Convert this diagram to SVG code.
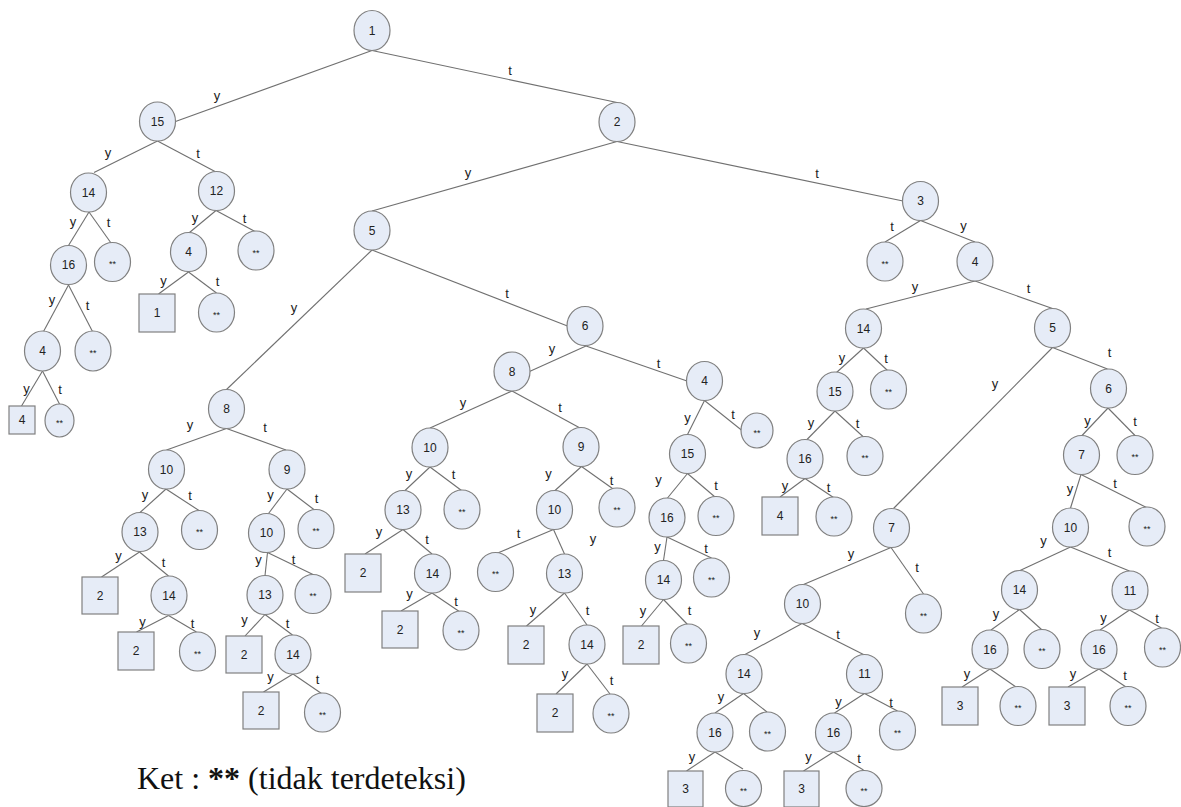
<svg xmlns="http://www.w3.org/2000/svg" width="1181" height="807" viewBox="0 0 1181 807">
<style>
.n ellipse,.n rect{fill:#e6ecf7;stroke:#808080;stroke-width:1.2}
.n text{font-family:"Liberation Sans",Arial,sans-serif;font-size:12px;fill:#222;text-anchor:middle}
.n text.s{font-size:9px}
#edges line{stroke:#707070;stroke-width:1.1}
#edges text{font-family:"Liberation Sans",Arial,sans-serif;font-size:13px;fill:#222;text-anchor:middle}
.legend{font-family:"Liberation Serif","Times New Roman",serif;font-size:32px;fill:#111}
</style>
<rect width="1181" height="807" fill="#fff"/>
<g id="edges">
<line x1="372" y1="50.5" x2="175.5" y2="121.5"/><text x="217" y="99.5">y</text>
<line x1="372" y1="50.5" x2="617" y2="102.5"/><text x="510" y="74.5">t</text>
<line x1="157.5" y1="141" x2="94" y2="172.5"/><text x="108" y="156.5">y</text>
<line x1="157.5" y1="141" x2="215" y2="171.5"/><text x="198" y="157.5">t</text>
<line x1="89" y1="212" x2="68.5" y2="245.5"/><text x="73" y="225.5">y</text>
<line x1="89" y1="212" x2="111" y2="243"/><text x="108.5" y="227">t</text>
<line x1="216" y1="210.5" x2="189.5" y2="232.5"/><text x="195" y="221.5">y</text>
<line x1="216" y1="210.5" x2="255" y2="231.5"/><text x="244.5" y="222.5">t</text>
<line x1="68.5" y1="285" x2="43.5" y2="331.5"/><text x="52" y="304">y</text>
<line x1="68.5" y1="285" x2="92.5" y2="331.5"/><text x="87.5" y="309.5">t</text>
<line x1="188.5" y1="272" x2="158.5" y2="294"/><text x="163.5" y="285">y</text>
<line x1="188.5" y1="272" x2="216.5" y2="293"/><text x="217.5" y="286">t</text>
<line x1="42.5" y1="371" x2="21.5" y2="406"/><text x="26.5" y="392.5">y</text>
<line x1="42.5" y1="371" x2="59.5" y2="404"/><text x="60" y="393.5">t</text>
<line x1="617" y1="141.5" x2="372" y2="211"/><text x="468" y="176.5">y</text>
<line x1="617" y1="141.5" x2="903" y2="201"/><text x="817" y="177.5">t</text>
<line x1="372" y1="250" x2="226.5" y2="389.5"/><text x="294" y="311.5">y</text>
<line x1="372" y1="250" x2="567.5" y2="326"/><text x="507" y="297.5">t</text>
<line x1="226.5" y1="428.5" x2="166.5" y2="450"/><text x="190" y="428.5">y</text>
<line x1="226.5" y1="428.5" x2="286" y2="450"/><text x="265" y="431.5">t</text>
<line x1="166" y1="489" x2="140" y2="512.5"/><text x="145" y="498.5">y</text>
<line x1="166" y1="489" x2="199" y2="510.5"/><text x="190" y="499.5">t</text>
<line x1="139.5" y1="552" x2="101.5" y2="577"/><text x="118.5" y="559.5">y</text>
<line x1="139.5" y1="552" x2="168.5" y2="576"/><text x="163.5" y="566.5">t</text>
<line x1="168.5" y1="615.5" x2="136.5" y2="632"/><text x="142.5" y="625.5">y</text>
<line x1="168.5" y1="615.5" x2="196.5" y2="632"/><text x="192.5" y="627.5">t</text>
<line x1="287" y1="489" x2="268.5" y2="513.5"/><text x="270.5" y="498.5">y</text>
<line x1="287" y1="489" x2="314.5" y2="510"/><text x="316.5" y="502.5">t</text>
<line x1="267.5" y1="552.5" x2="265" y2="575.5"/><text x="258.5" y="563.5">y</text>
<line x1="267.5" y1="552.5" x2="313" y2="574.5"/><text x="293.5" y="564">t</text>
<line x1="265" y1="614.5" x2="245" y2="636"/><text x="244.5" y="623.5">y</text>
<line x1="265" y1="614.5" x2="292.5" y2="635"/><text x="287.5" y="628">t</text>
<line x1="293" y1="674" x2="263.5" y2="692"/><text x="270.5" y="680.5">y</text>
<line x1="293" y1="674" x2="321.5" y2="693.5"/><text x="317.5" y="684">t</text>
<line x1="586" y1="346" x2="529.5" y2="371.5"/><text x="552" y="352.5">y</text>
<line x1="586" y1="346" x2="687" y2="381"/><text x="658.5" y="368">t</text>
<line x1="512" y1="391" x2="430" y2="428"/><text x="463" y="406.5">y</text>
<line x1="512" y1="391" x2="580" y2="428"/><text x="560" y="412">t</text>
<line x1="430" y1="467" x2="405" y2="490.5"/><text x="409" y="477.5">y</text>
<line x1="430" y1="467" x2="461.5" y2="490.5"/><text x="453.5" y="478.5">t</text>
<line x1="403" y1="529.5" x2="365" y2="554"/><text x="379" y="536">y</text>
<line x1="403" y1="529.5" x2="432" y2="554"/><text x="427" y="544">t</text>
<line x1="432" y1="593" x2="401" y2="611"/><text x="409.5" y="597.5">y</text>
<line x1="432" y1="593" x2="460" y2="612"/><text x="456" y="605.5">t</text>
<line x1="581.5" y1="466.5" x2="555" y2="490.5"/><text x="548.5" y="477.5">y</text>
<line x1="581.5" y1="466.5" x2="616" y2="491"/><text x="611.5" y="484.5">t</text>
<line x1="553.5" y1="529.5" x2="496.5" y2="553.5"/><text x="518.5" y="537.5">t</text>
<line x1="553.5" y1="529.5" x2="564.5" y2="554"/><text x="593" y="542.5">y</text>
<line x1="564.5" y1="593" x2="526.5" y2="626"/><text x="533" y="613.5">y</text>
<line x1="564.5" y1="593" x2="587" y2="625"/><text x="587.5" y="614.5">t</text>
<line x1="587" y1="664" x2="556" y2="694"/><text x="565" y="677.5">y</text>
<line x1="587" y1="664" x2="610" y2="694"/><text x="611.5" y="684.5">t</text>
<line x1="704.5" y1="400.5" x2="687.5" y2="434.5"/><text x="687.5" y="422">y</text>
<line x1="704.5" y1="400.5" x2="742" y2="430.5"/><text x="733" y="418.5">t</text>
<line x1="687.5" y1="473.5" x2="667.5" y2="498"/><text x="658.5" y="483.5">y</text>
<line x1="687.5" y1="473.5" x2="715" y2="497"/><text x="716" y="489.5">t</text>
<line x1="667" y1="537" x2="663.5" y2="560.5"/><text x="657.5" y="551">y</text>
<line x1="667" y1="537" x2="711.5" y2="558"/><text x="706" y="553">t</text>
<line x1="663.5" y1="599.5" x2="641.5" y2="626"/><text x="643" y="614.5">y</text>
<line x1="663.5" y1="599.5" x2="687.5" y2="624.5"/><text x="689.5" y="614.5">t</text>
<line x1="920.5" y1="220.5" x2="885" y2="242"/><text x="892" y="230.5">t</text>
<line x1="920.5" y1="220.5" x2="975" y2="242"/><text x="963.5" y="229.5">y</text>
<line x1="975" y1="281" x2="866" y2="309"/><text x="915" y="291">y</text>
<line x1="975" y1="281" x2="1052.5" y2="308.5"/><text x="1028.5" y="293">t</text>
<line x1="863.5" y1="348" x2="836.5" y2="372.5"/><text x="842" y="362">y</text>
<line x1="863.5" y1="348" x2="887.5" y2="370.5"/><text x="886" y="363">t</text>
<line x1="835" y1="411" x2="806.5" y2="440"/><text x="811" y="426.5">y</text>
<line x1="835" y1="411" x2="863.5" y2="437"/><text x="857.5" y="428">t</text>
<line x1="805" y1="478.5" x2="780" y2="497"/><text x="785" y="489.5">y</text>
<line x1="805" y1="478.5" x2="833.5" y2="497.5"/><text x="828.5" y="491.5">t</text>
<line x1="1052.5" y1="347.5" x2="893.5" y2="508.5"/><text x="995" y="387.5">y</text>
<line x1="1052.5" y1="347.5" x2="1107.5" y2="369"/><text x="1109.5" y="356.5">t</text>
<line x1="1108" y1="408" x2="1082" y2="435.5"/><text x="1087.5" y="424.5">y</text>
<line x1="1108" y1="408" x2="1135" y2="435.5"/><text x="1135" y="425.5">t</text>
<line x1="1081" y1="474.5" x2="1070.5" y2="508"/><text x="1070" y="492.5">y</text>
<line x1="1081" y1="474.5" x2="1146.5" y2="507.5"/><text x="1115" y="487.5">t</text>
<line x1="1070.5" y1="547" x2="1020" y2="570.5"/><text x="1043.5" y="544.5">y</text>
<line x1="1070.5" y1="547" x2="1129.5" y2="571"/><text x="1109.5" y="556.5">t</text>
<line x1="1019.5" y1="609.5" x2="991" y2="630"/><text x="996" y="617.5">y</text>
<line x1="1019.5" y1="609.5" x2="1041.5" y2="629.5"/>
<line x1="1129.5" y1="610" x2="1100" y2="630"/><text x="1103.5" y="622">y</text>
<line x1="1129.5" y1="610" x2="1161.5" y2="628"/><text x="1157" y="623">t</text>
<line x1="990" y1="669" x2="962" y2="687"/><text x="967" y="677.5">y</text>
<line x1="990" y1="669" x2="1016" y2="687"/>
<line x1="1099" y1="669" x2="1068" y2="687"/><text x="1073" y="677.5">y</text>
<line x1="1099" y1="669" x2="1126" y2="687"/><text x="1125" y="679.5">t</text>
<line x1="891" y1="547.5" x2="803.5" y2="584.5"/><text x="851" y="557.5">y</text>
<line x1="891" y1="547.5" x2="923.5" y2="594"/><text x="917" y="571.5">t</text>
<line x1="802" y1="623.5" x2="745" y2="654.5"/><text x="757" y="636.5">y</text>
<line x1="802" y1="623.5" x2="863.5" y2="654.5"/><text x="838" y="638.5">t</text>
<line x1="743.5" y1="693.5" x2="715" y2="713"/><text x="721" y="701">y</text>
<line x1="743.5" y1="693.5" x2="767" y2="712"/>
<line x1="864.5" y1="693.5" x2="834.5" y2="713"/><text x="838.5" y="705.5">y</text>
<line x1="864.5" y1="693.5" x2="897.5" y2="711"/><text x="891" y="706.5">t</text>
<line x1="715" y1="752" x2="686.5" y2="771"/><text x="692" y="761">y</text>
<line x1="715" y1="752" x2="743" y2="769"/>
<line x1="833.5" y1="752" x2="803.5" y2="771"/><text x="808.5" y="761">y</text>
<line x1="833.5" y1="752" x2="863.5" y2="770"/><text x="859" y="763">t</text>
</g>
<g id="n1" class="n"><ellipse cx="372" cy="30.5" rx="18" ry="20"/><text x="372" y="34.8">1</text></g>
<g id="n15" class="n"><ellipse cx="157.5" cy="121.5" rx="18" ry="19.5"/><text x="157.5" y="125.8">15</text></g>
<g id="n2" class="n"><ellipse cx="617" cy="122" rx="18" ry="19.5"/><text x="617" y="126.3">2</text></g>
<g id="n14a" class="n"><ellipse cx="88.5" cy="192.5" rx="18" ry="19.5"/><text x="88.5" y="196.8">14</text></g>
<g id="n12" class="n"><ellipse cx="216.5" cy="191" rx="18" ry="19.5"/><text x="216.5" y="195.3">12</text></g>
<g id="n16a" class="n"><ellipse cx="68.5" cy="265" rx="18" ry="19.5"/><text x="68.5" y="269.3">16</text></g>
<g id="n14a_t" class="n"><ellipse cx="112.5" cy="262" rx="18" ry="19.5"/><text class="s" x="112.5" y="267">**</text></g>
<g id="n4a" class="n"><ellipse cx="188.5" cy="252" rx="18" ry="19.5"/><text x="188.5" y="256.3">4</text></g>
<g id="n12_t" class="n"><ellipse cx="256" cy="250.5" rx="18" ry="19.5"/><text class="s" x="256" y="255.5">**</text></g>
<g id="sq1" class="n"><rect x="139" y="294" width="36" height="38"/><text x="157" y="317.3">1</text></g>
<g id="n4a_t" class="n"><ellipse cx="216.5" cy="312.5" rx="18" ry="19.5"/><text class="s" x="216.5" y="317.5">**</text></g>
<g id="n4b" class="n"><ellipse cx="42.5" cy="351" rx="18" ry="20"/><text x="42.5" y="355.3">4</text></g>
<g id="n16a_t" class="n"><ellipse cx="93" cy="351" rx="18" ry="20"/><text class="s" x="93" y="356">**</text></g>
<g id="sq4a" class="n"><rect x="9" y="406" width="26" height="28"/><text x="22" y="424.3">4</text></g>
<g id="n4b_t" class="n"><ellipse cx="59.5" cy="420.5" rx="14.5" ry="16.5"/><text class="s" x="59.5" y="425.5">**</text></g>
<g id="n5" class="n"><ellipse cx="372" cy="230.5" rx="18" ry="19.5"/><text x="372" y="234.8">5</text></g>
<g id="n3" class="n"><ellipse cx="920.5" cy="201" rx="18" ry="19.5"/><text x="920.5" y="205.3">3</text></g>
<g id="n8" class="n"><ellipse cx="226.5" cy="409" rx="18" ry="19.5"/><text x="226.5" y="413.3">8</text></g>
<g id="n6" class="n"><ellipse cx="585" cy="326" rx="18" ry="19.5"/><text x="585" y="330.3">6</text></g>
<g id="n10a" class="n"><ellipse cx="166.5" cy="469.5" rx="18" ry="19.5"/><text x="166.5" y="473.8">10</text></g>
<g id="n9a" class="n"><ellipse cx="287" cy="469.5" rx="18" ry="19.5"/><text x="287" y="473.8">9</text></g>
<g id="n13a" class="n"><ellipse cx="140" cy="532" rx="18" ry="19.5"/><text x="140" y="536.3">13</text></g>
<g id="n10a_t" class="n"><ellipse cx="199.5" cy="530" rx="18" ry="19.5"/><text class="s" x="199.5" y="535">**</text></g>
<g id="sq2a" class="n"><rect x="82" y="577" width="36" height="37"/><text x="100" y="599.8">2</text></g>
<g id="n14b" class="n"><ellipse cx="169" cy="595.5" rx="18" ry="19.5"/><text x="169" y="599.8">14</text></g>
<g id="sq2b" class="n"><rect x="118" y="632" width="36" height="38"/><text x="136" y="655.3">2</text></g>
<g id="n14b_t" class="n"><ellipse cx="197.5" cy="651.5" rx="18" ry="19.5"/><text class="s" x="197.5" y="656.5">**</text></g>
<g id="n10b" class="n"><ellipse cx="266.5" cy="533" rx="18" ry="19.5"/><text x="266.5" y="537.3">10</text></g>
<g id="n9a_t" class="n"><ellipse cx="316" cy="529" rx="18" ry="19.5"/><text class="s" x="316" y="534">**</text></g>
<g id="n13b" class="n"><ellipse cx="265" cy="595" rx="18" ry="19.5"/><text x="265" y="599.3">13</text></g>
<g id="n10b_t" class="n"><ellipse cx="313" cy="594" rx="18" ry="19.5"/><text class="s" x="313" y="599">**</text></g>
<g id="sq2c" class="n"><rect x="226" y="636" width="36" height="37"/><text x="244" y="658.8">2</text></g>
<g id="n14c" class="n"><ellipse cx="293" cy="654.5" rx="18" ry="19.5"/><text x="293" y="658.8">14</text></g>
<g id="sq2d" class="n"><rect x="243" y="692" width="36" height="37"/><text x="261" y="714.8">2</text></g>
<g id="n14c_t" class="n"><ellipse cx="322.5" cy="712.5" rx="18" ry="19.5"/><text class="s" x="322.5" y="717.5">**</text></g>
<g id="n8b" class="n"><ellipse cx="512" cy="371.5" rx="18" ry="19.5"/><text x="512" y="375.8">8</text></g>
<g id="n4c" class="n"><ellipse cx="704.5" cy="381" rx="18" ry="19.5"/><text x="704.5" y="385.3">4</text></g>
<g id="n10c" class="n"><ellipse cx="430" cy="447.5" rx="18" ry="19.5"/><text x="430" y="451.8">10</text></g>
<g id="n9b" class="n"><ellipse cx="581" cy="447" rx="18" ry="19.5"/><text x="581" y="451.3">9</text></g>
<g id="n13c" class="n"><ellipse cx="403" cy="510" rx="18" ry="19.5"/><text x="403" y="514.3">13</text></g>
<g id="n10c_t" class="n"><ellipse cx="462" cy="509.5" rx="18" ry="19.5"/><text class="s" x="462" y="514.5">**</text></g>
<g id="sq2e" class="n"><rect x="345" y="554" width="36" height="38"/><text x="363" y="577.3">2</text></g>
<g id="n14d" class="n"><ellipse cx="432.5" cy="573.5" rx="18" ry="19.5"/><text x="432.5" y="577.8">14</text></g>
<g id="sq2f" class="n"><rect x="382" y="611" width="36" height="37"/><text x="400" y="633.8">2</text></g>
<g id="n14d_t" class="n"><ellipse cx="461" cy="630.5" rx="18" ry="19.5"/><text class="s" x="461" y="635.5">**</text></g>
<g id="n10d" class="n"><ellipse cx="554.5" cy="510" rx="18" ry="19.5"/><text x="554.5" y="514.3">10</text></g>
<g id="n9b_t" class="n"><ellipse cx="617" cy="507.5" rx="18" ry="19.5"/><text class="s" x="617" y="512.5">**</text></g>
<g id="n10d_t" class="n"><ellipse cx="495.5" cy="572" rx="18" ry="19.5"/><text class="s" x="495.5" y="577">**</text></g>
<g id="n13d" class="n"><ellipse cx="564.5" cy="573.5" rx="18" ry="19.5"/><text x="564.5" y="577.8">13</text></g>
<g id="sq2g" class="n"><rect x="508" y="626" width="36" height="38"/><text x="526" y="649.3">2</text></g>
<g id="n14e" class="n"><ellipse cx="587" cy="644.5" rx="18" ry="19.5"/><text x="587" y="648.8">14</text></g>
<g id="sq2h" class="n"><rect x="537" y="694" width="36" height="38"/><text x="555" y="717.3">2</text></g>
<g id="n14e_t" class="n"><ellipse cx="611" cy="713.5" rx="18" ry="19.5"/><text class="s" x="611" y="718.5">**</text></g>
<g id="n15b" class="n"><ellipse cx="687.5" cy="454" rx="18" ry="19.5"/><text x="687.5" y="458.3">15</text></g>
<g id="n4c_t" class="n"><ellipse cx="757" cy="430.5" rx="16" ry="17.5"/><text class="s" x="757" y="435.5">**</text></g>
<g id="n16b" class="n"><ellipse cx="667" cy="517.5" rx="18" ry="19.5"/><text x="667" y="521.8">16</text></g>
<g id="n15b_t" class="n"><ellipse cx="716" cy="516" rx="18" ry="19.5"/><text class="s" x="716" y="521">**</text></g>
<g id="n14f" class="n"><ellipse cx="663.5" cy="580" rx="18" ry="19.5"/><text x="663.5" y="584.3">14</text></g>
<g id="n16b_t" class="n"><ellipse cx="711.5" cy="577.5" rx="18" ry="19.5"/><text class="s" x="711.5" y="582.5">**</text></g>
<g id="sq2i" class="n"><rect x="623" y="626" width="36" height="38"/><text x="641" y="649.3">2</text></g>
<g id="n14f_t" class="n"><ellipse cx="688.5" cy="643.5" rx="18" ry="19.5"/><text class="s" x="688.5" y="648.5">**</text></g>
<g id="n3_t" class="n"><ellipse cx="885" cy="261.5" rx="18" ry="19.5"/><text class="s" x="885" y="266.5">**</text></g>
<g id="n4d" class="n"><ellipse cx="975" cy="261.5" rx="18" ry="19.5"/><text x="975" y="265.8">4</text></g>
<g id="n14g" class="n"><ellipse cx="863.5" cy="328.5" rx="18" ry="19.5"/><text x="863.5" y="332.8">14</text></g>
<g id="n5c" class="n"><ellipse cx="1052.5" cy="328" rx="18" ry="19.5"/><text x="1052.5" y="332.3">5</text></g>
<g id="n15c" class="n"><ellipse cx="835" cy="391.5" rx="18" ry="19.5"/><text x="835" y="395.8">15</text></g>
<g id="n14g_t" class="n"><ellipse cx="888.5" cy="389.5" rx="18" ry="19.5"/><text class="s" x="888.5" y="394.5">**</text></g>
<g id="n16c" class="n"><ellipse cx="805" cy="459" rx="18" ry="19.5"/><text x="805" y="463.3">16</text></g>
<g id="n15c_t" class="n"><ellipse cx="865" cy="456" rx="18" ry="19.5"/><text class="s" x="865" y="461">**</text></g>
<g id="sq4b" class="n"><rect x="762" y="497" width="36" height="38"/><text x="780" y="520.3">4</text></g>
<g id="n16c_t" class="n"><ellipse cx="834" cy="516.5" rx="18" ry="19.5"/><text class="s" x="834" y="521.5">**</text></g>
<g id="n7a" class="n"><ellipse cx="891.5" cy="528" rx="18" ry="19.5"/><text x="891.5" y="532.3">7</text></g>
<g id="n6c" class="n"><ellipse cx="1108.5" cy="388.5" rx="18" ry="19.5"/><text x="1108.5" y="392.8">6</text></g>
<g id="n7b" class="n"><ellipse cx="1081.5" cy="455" rx="18" ry="19.5"/><text x="1081.5" y="459.3">7</text></g>
<g id="n6c_t" class="n"><ellipse cx="1135" cy="455" rx="18" ry="19.5"/><text class="s" x="1135" y="460">**</text></g>
<g id="n10e" class="n"><ellipse cx="1070.5" cy="527.5" rx="18" ry="19.5"/><text x="1070.5" y="531.8">10</text></g>
<g id="n7b_t" class="n"><ellipse cx="1147" cy="526.5" rx="18" ry="19.5"/><text class="s" x="1147" y="531.5">**</text></g>
<g id="n14h" class="n"><ellipse cx="1019.5" cy="590" rx="18" ry="19.5"/><text x="1019.5" y="594.3">14</text></g>
<g id="n11h" class="n"><ellipse cx="1130" cy="590.5" rx="18" ry="19.5"/><text x="1130" y="594.8">11</text></g>
<g id="n16h1" class="n"><ellipse cx="990" cy="649.5" rx="18" ry="19.5"/><text x="990" y="653.8">16</text></g>
<g id="n14h_t" class="n"><ellipse cx="1042" cy="649" rx="18" ry="19.5"/><text class="s" x="1042" y="654">**</text></g>
<g id="n16h2" class="n"><ellipse cx="1099" cy="649.5" rx="18" ry="19.5"/><text x="1099" y="653.8">16</text></g>
<g id="n11h_t" class="n"><ellipse cx="1162.5" cy="647.5" rx="18" ry="19.5"/><text class="s" x="1162.5" y="652.5">**</text></g>
<g id="sq3a" class="n"><rect x="942" y="687" width="36" height="38"/><text x="960" y="710.3">3</text></g>
<g id="n16h1_t" class="n"><ellipse cx="1018" cy="706" rx="18" ry="19.5"/><text class="s" x="1018" y="711">**</text></g>
<g id="sq3b" class="n"><rect x="1049" y="687" width="36" height="38"/><text x="1067" y="710.3">3</text></g>
<g id="n16h2_t" class="n"><ellipse cx="1128" cy="706" rx="18" ry="19.5"/><text class="s" x="1128" y="711">**</text></g>
<g id="n10f" class="n"><ellipse cx="802.5" cy="604" rx="18" ry="19.5"/><text x="802.5" y="608.3">10</text></g>
<g id="n7a_t" class="n"><ellipse cx="923.5" cy="613.5" rx="18" ry="19.5"/><text class="s" x="923.5" y="618.5">**</text></g>
<g id="n14i" class="n"><ellipse cx="744" cy="674" rx="18" ry="19.5"/><text x="744" y="678.3">14</text></g>
<g id="n11i" class="n"><ellipse cx="864.5" cy="674" rx="18" ry="19.5"/><text x="864.5" y="678.3">11</text></g>
<g id="n16i1" class="n"><ellipse cx="715" cy="732.5" rx="18" ry="19.5"/><text x="715" y="736.8">16</text></g>
<g id="n14i_t" class="n"><ellipse cx="767.5" cy="731.5" rx="18" ry="19.5"/><text class="s" x="767.5" y="736.5">**</text></g>
<g id="n16i2" class="n"><ellipse cx="833.5" cy="732.5" rx="18" ry="19.5"/><text x="833.5" y="736.8">16</text></g>
<g id="n11i_t" class="n"><ellipse cx="897.5" cy="730.5" rx="18" ry="19.5"/><text class="s" x="897.5" y="735.5">**</text></g>
<g id="sq3c" class="n"><rect x="668" y="771" width="35" height="36"/><text x="685.5" y="793.3">3</text></g>
<g id="n16i1_t" class="n"><ellipse cx="743.5" cy="788.5" rx="18" ry="18"/><text class="s" x="743.5" y="793.5">**</text></g>
<g id="sq3d" class="n"><rect x="784" y="771" width="35" height="36"/><text x="801.5" y="793.3">3</text></g>
<g id="n16i2_t" class="n"><ellipse cx="864" cy="788.5" rx="18" ry="18"/><text class="s" x="864" y="793.5">**</text></g>
<text class="legend" x="137" y="789">Ket : <tspan font-weight="bold">**</tspan> (tidak terdeteksi)</text>
</svg>
